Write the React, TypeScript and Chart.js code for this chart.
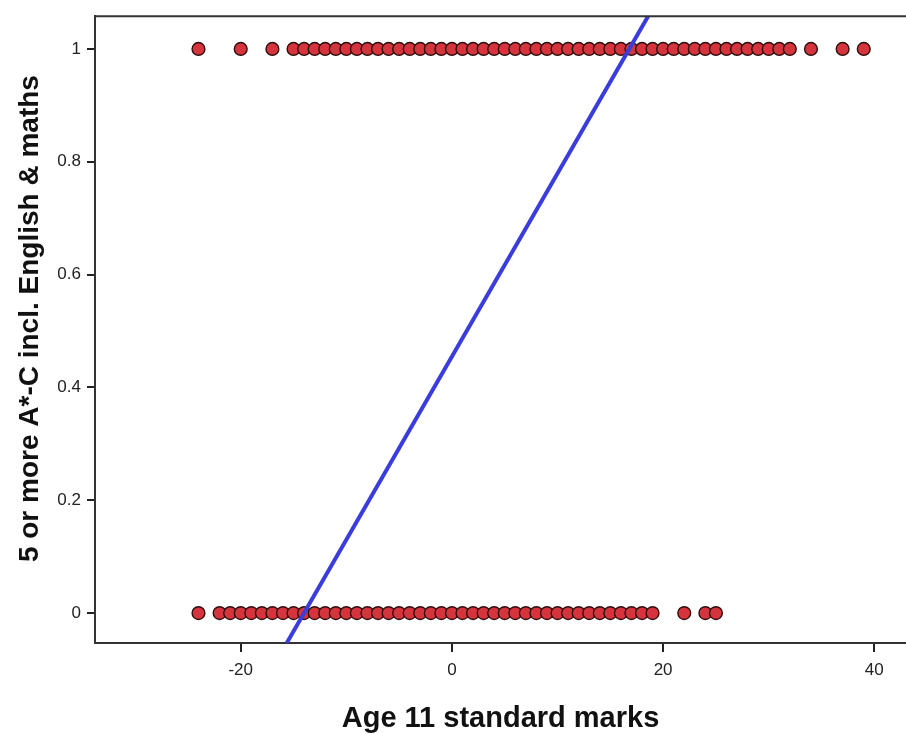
import React, { useEffect, useRef } from "react";
import { Chart, registerables } from "chart.js";

Chart.register(...registerables);

// Outcome = 1 (achieved 5+ A*-C incl. English & maths): age 11 marks
const passMarks: number[] = [
  -24, -20, -17,
  -15, -14, -13, -12, -11, -10, -9, -8, -7, -6, -5, -4, -3, -2, -1, 0,
  1, 2, 3, 4, 5, 6, 7, 8, 9, 10, 11, 12, 13, 14, 15, 16, 17, 18, 19, 20,
  21, 22, 23, 24, 25, 26, 27, 28, 29, 30, 31, 32,
  34, 37, 39,
];

// Outcome = 0: age 11 marks
const failMarks: number[] = [
  -24,
  -22, -21, -20, -19, -18, -17, -16, -15, -14, -13, -12, -11, -10, -9, -8,
  -7, -6, -5, -4, -3, -2, -1, 0, 1, 2, 3, 4, 5, 6, 7, 8, 9, 10, 11, 12, 13,
  14, 15, 16, 17, 18, 19,
  22, 24, 25,
];

// Fitted linear probability line (endpoints)
const fitX: number[] = [-15.64, 18.58];
const fitY: number[] = [-0.053, 1.058];

const xTicks: number[] = [-20, 0, 20, 40];
const yTicks: number[] = [0, 0.2, 0.4, 0.6, 0.8, 1];

const xTitle = "Age 11 standard marks";
const yTitle = "5 or more A*-C incl. English & maths";

const FONT = "'Liberation Sans', Arial, Helvetica, sans-serif";

export default function App() {
  const ref = useRef<HTMLCanvasElement | null>(null);

  useEffect(() => {
    document.body.style.margin = "0";
    const ctx = ref.current;
    if (!ctx) return;

    const points = [
      ...passMarks.map((x) => ({ x, y: 1 })),
      ...failMarks.map((x) => ({ x, y: 0 })),
    ];

    const frame = {
      id: "frameAndTitle",
      afterDatasetsDraw(chart: any) {
        const { ctx: c, chartArea } = chart;
        c.save();
        c.strokeStyle = "#333";
        c.lineWidth = 2;
        c.beginPath();
        c.moveTo(chartArea.left, chartArea.top);
        c.lineTo(chartArea.right, chartArea.top);
        c.stroke();
        c.restore();
      },
      afterDraw(chart: any) {
        const { ctx: c, chartArea } = chart;
        c.save();
        c.fillStyle = "#111";
        c.font = `bold 28px ${FONT}`;
        c.textAlign = "center";
        c.textBaseline = "middle";
        c.translate(30, (chartArea.top + chartArea.bottom) / 2 - 11);
        c.rotate(-Math.PI / 2);
        c.fillText(yTitle, 0, 0);
        c.restore();
      },
    };

    const chart = new Chart(ctx, {
      type: "scatter",
      data: {
        datasets: [
          {
            type: "line",
            label: "Fit",
            data: fitX.map((x, i) => ({ x, y: fitY[i] })),
            borderColor: "#3a3ddc",
            borderWidth: 4,
            pointRadius: 0,
            fill: false,
            order: 0,
          } as any,
          {
            label: "Observed",
            data: points,
            backgroundColor: "#d6343d",
            borderColor: "#2e0e0e",
            borderWidth: 1.4,
            pointRadius: 6.4,
            order: 1,
          },
        ],
      },
      plugins: [frame],
      options: {
        animation: false,
        responsive: true,
        maintainAspectRatio: false,
        layout: { autoPadding: false, padding: { top: 15, left: 0, right: 0, bottom: 0 } },
        plugins: {
          legend: { display: false },
          tooltip: { enabled: false },
        },
        scales: {
          x: {
            type: "linear",
            min: -33.8,
            max: 43.0,
            afterBuildTicks: (scale: any) => {
              scale.ticks = xTicks.map((value) => ({ value }));
            },
            afterFit: (scale: any) => {
              scale.height = 91;
            },
            ticks: {
              font: { family: FONT, size: 17 },
              color: "#222",
              padding: 8,
              maxRotation: 0,
              callback: (v: any) => String(v),
            },
            grid: {
              display: true,
              drawOnChartArea: false,
              drawTicks: true,
              tickLength: 9,
              color: "#222",
              lineWidth: 2,
            },
            border: { display: true, color: "#333", width: 2 },
            title: {
              display: true,
              text: xTitle,
              font: { family: FONT, size: 29, weight: "bold", lineHeight: 1 },
              color: "#111",
              padding: { top: 0, bottom: 1 },
            },
          },
          y: {
            type: "linear",
            min: -0.053,
            max: 1.058,
            afterBuildTicks: (scale: any) => {
              scale.ticks = yTicks.map((value) => ({ value }));
            },
            afterFit: (scale: any) => {
              scale.width = 95;
            },
            ticks: {
              font: { family: FONT, size: 17 },
              color: "#222",
              padding: 6,
              callback: (v: any) => String(Math.round(Number(v) * 10) / 10),
            },
            grid: {
              display: true,
              drawOnChartArea: false,
              drawTicks: true,
              tickLength: 8,
              color: "#222",
              lineWidth: 2,
            },
            border: { display: true, color: "#333", width: 2 },
          },
        },
      },
    });

    return () => chart.destroy();
  }, []);

  return (
    <div style={{ position: "absolute", left: 0, top: 0, width: 906, height: 734, background: "#fff" }}>
      <canvas ref={ref} />
    </div>
  );
}
